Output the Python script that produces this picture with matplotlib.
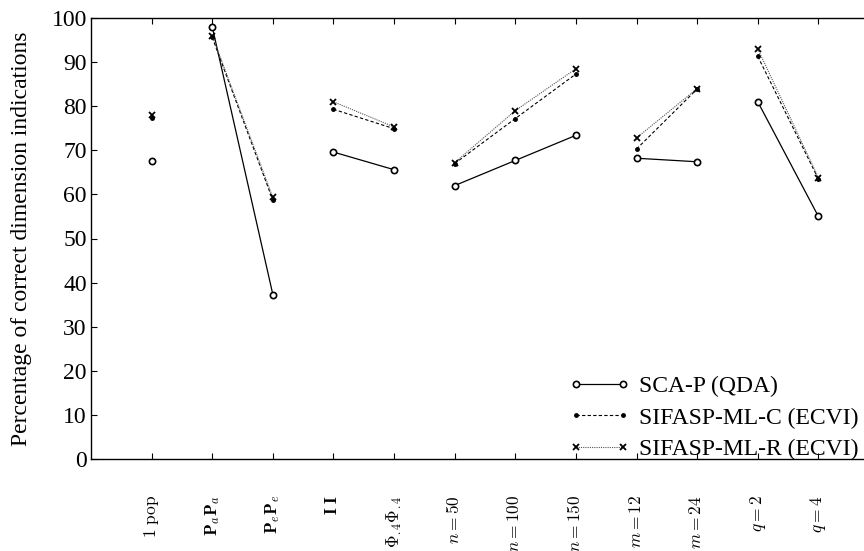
import matplotlib
matplotlib.use("Agg")
import matplotlib.pyplot as plt
import numpy as np

plt.rcParams['font.family'] = ['Liberation Serif', 'DejaVu Serif']
plt.rcParams['mathtext.fontset'] = 'cm'

categories = [r'$\mathrm{1\ pop}$', r'$\mathbf{P}_a\mathbf{P}_a$', r'$\mathbf{P}_e\mathbf{P}_e$',
              r'$\mathbf{I}\ \mathbf{I}$', r'$\mathbf{\Phi}_{.4}\mathbf{\Phi}_{.4}$',
              r'$n{=}50$', r'$n{=}100$', r'$n{=}150$',
              r'$m{=}12$', r'$m{=}24$', r'$q{=}2$', r'$q{=}4$']
groups = [[0], [1, 2], [3, 4], [5, 6, 7], [8, 9], [10, 11]]

sca_p = [67.5, 98.0, 37.3, 69.6, 65.6, 62.0, 67.7, 73.4, 68.2, 67.4, 81.0, 55.0]
sifasp_c = [77.3, 95.6, 58.7, 79.3, 74.9, 67.0, 77.2, 87.3, 70.3, 83.9, 91.3, 63.5]
sifasp_r = [78.0, 96.0, 59.3, 81.0, 75.3, 67.2, 79.0, 88.5, 72.8, 84.0, 93.0, 63.8]

series = [
    ('SCA-P (QDA)', sca_p, dict(color='black', linestyle='-', marker='o', markersize=4.5,
                                markerfacecolor='white', markeredgewidth=1.2, linewidth=0.9)),
    ('SIFASP-ML-C (ECVI)', sifasp_c, dict(color='black', linestyle=(0, (3, 2)), marker='.',
                                          markersize=5, linewidth=0.8)),
    ('SIFASP-ML-R (ECVI)', sifasp_r, dict(color='#555555', linestyle=(0, (1, 1)), marker='x',
                                          markersize=4.5, markeredgewidth=1.3,
                                          markeredgecolor='black', linewidth=0.8)),
]

fig = plt.figure(figsize=(8.64, 5.51), dpi=100)
ax = fig.add_axes([91 / 864, 92 / 551, 788 / 864, 441 / 551])

x = np.arange(1, len(categories) + 1)
for name, vals, style in series:
    first = True
    for g in groups:
        xs = [x[i] for i in g]
        ys = [vals[i] for i in g]
        ax.plot(xs, ys, label=name if first else None, **style)
        first = False

ax.set_xlim(0, 13)
ax.set_ylim(0, 100)
ax.set_yticks(np.arange(0, 101, 10))
ax.set_xticks(x)
ax.set_xticklabels(categories, rotation=90, fontsize=12.5)
ax.tick_params(axis='y', labelsize=17, direction='in', length=4, width=0.8, right=False, pad=3)
ax.tick_params(axis='x', direction='in', length=4, width=0.8, top=True, pad=26)
ax.set_ylabel('Percentage of correct dimension indications', fontsize=17, labelpad=14)
for s in ax.spines.values():
    s.set_linewidth(1.0)
ax.spines['right'].set_visible(False)

leg = ax.legend(loc='lower right', bbox_to_anchor=(1.004, 0.148), bbox_transform=fig.transFigure,
                frameon=False, fontsize=17, handlelength=2.6, handletextpad=0.35,
                labelspacing=0.42, numpoints=2, borderaxespad=0)

fig.savefig('out.png', dpi=100)
